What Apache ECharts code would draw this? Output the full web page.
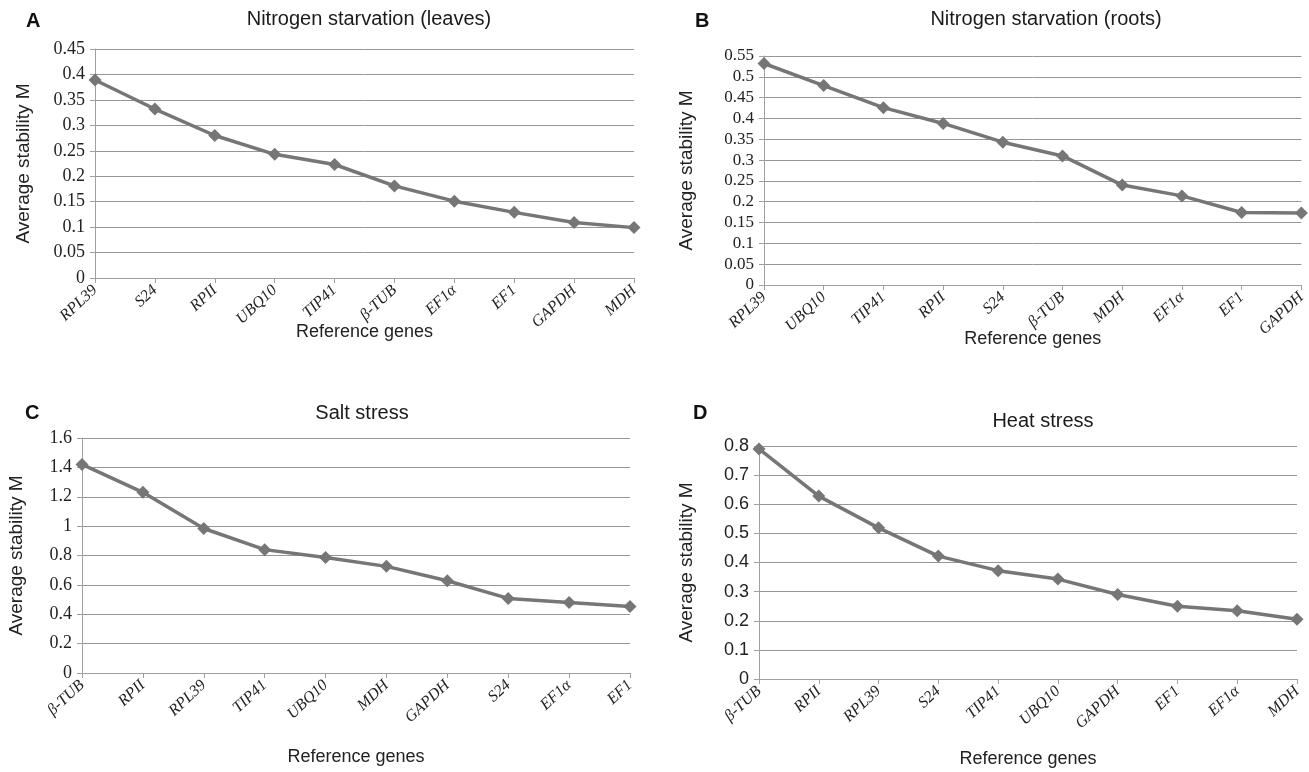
<!DOCTYPE html>
<html><head><meta charset="utf-8">
<script src="https://cdn.jsdelivr.net/npm/echarts@6/dist/echarts.min.js"></script>
<style>html,body{margin:0;padding:0;background:#fff}#c{width:1309px;height:772px}</style>
</head><body><div id="c"></div>
<script>
// ---- data ----
const catsA = ['RPL39','S24','RPII','UBQ10','TIP41','β-TUB','EF1α','EF1','GAPDH','MDH'];
const valsA = [0.389,0.332,0.280,0.243,0.223,0.181,0.151,0.129,0.109,0.099];
const catsB = ['RPL39','UBQ10','TIP41','RPII','S24','β-TUB','MDH','EF1α','EF1','GAPDH'];
const valsB = [0.532,0.479,0.426,0.388,0.343,0.310,0.240,0.214,0.174,0.173];
const catsC = ['β-TUB','RPII','RPL39','TIP41','UBQ10','MDH','GAPDH','S24','EF1α','EF1'];
const valsC = [1.42,1.23,0.984,0.84,0.786,0.726,0.628,0.508,0.48,0.452];
const catsD = ['β-TUB','RPII','RPL39','S24','TIP41','UBQ10','GAPDH','EF1','EF1α','MDH'];
const valsD = [0.79,0.628,0.519,0.422,0.372,0.343,0.29,0.25,0.234,0.205];
const titles = ['Nitrogen starvation (leaves)','Nitrogen starvation (roots)','Salt stress','Heat stress'];
const letters = ['A','B','C','D'];
const yName = 'Average stability M';
const xName = 'Reference genes';

const chart = echarts.init(document.getElementById('c'), null, {renderer:'canvas'});
const SANS = 'Liberation Sans, Arial, sans-serif';
const SERIF = 'Liberation Serif, Times New Roman, serif';
const gray = '#767676';

const panels = [
  {cats:catsA, vals:valsA, grid:{left:95, top:49, width:539, height:229}, max:0.45, interval:0.05, yFont:SERIF, yFs:18, yGap:62, xGap:45,
   title:[369,9], letter:[26,11]},
  {cats:catsB, vals:valsB, grid:{left:764, top:56, width:538, height:229}, max:0.55, interval:0.05, yFont:SERIF, yFs:17, yGap:68, xGap:45,
   title:[1046,9], letter:[695,11]},
  {cats:catsC, vals:valsC, grid:{left:82, top:438, width:548, height:235}, max:1.6, interval:0.2, yFont:SERIF, yFs:18, yGap:56, xGap:75,
   title:[362,403], letter:[25,403]},
  {cats:catsD, vals:valsD, grid:{left:759, top:446, width:538, height:233}, max:0.8, interval:0.1, yFont:SANS, yFs:18, yGap:63, xGap:71,
   title:[1043,411], letter:[693,403]}
];

const option = {
  animation:false,
  backgroundColor:'#fff',
  grid: panels.map(p=>Object.assign({containLabel:false}, p.grid)),
  xAxis: panels.map((p,i)=>({
    gridIndex:i, type:'category', data:p.cats, boundaryGap:false,
    axisLine:{show:true, lineStyle:{color:'#a0a0a0', width:1}},
    axisTick:{show:true, length:5, lineStyle:{color:'#a0a0a0'}},
    axisLabel:{rotate:43, margin:10, fontStyle:'italic', fontFamily:SERIF, fontSize:16, color:'#222', interval:0},
    splitLine:{show:false},
    name:xName, nameLocation:'middle', nameGap:p.xGap, nameMoveOverlap:false,
    nameTextStyle:{fontFamily:SANS, fontSize:18, color:'#222'}
  })),
  yAxis: panels.map((p,i)=>({
    gridIndex:i, type:'value', min:0, max:p.max, interval:p.interval,
    axisLine:{show:true, lineStyle:{color:'#a0a0a0', width:1}},
    axisTick:{show:true, length:5, lineStyle:{color:'#a0a0a0'}},
    axisLabel:{fontFamily:p.yFont, fontSize:p.yFs, color:'#222', margin:10},
    splitLine:{show:true, lineStyle:{color:'#969696', width:1}},
    name:yName, nameLocation:'middle', nameGap:p.yGap, nameMoveOverlap:false,
    nameTextStyle:{fontFamily:SANS, fontSize:19, color:'#222'}
  })),
  series: panels.map((p,i)=>({
    type:'line', xAxisIndex:i, yAxisIndex:i, data:p.vals,
    symbol:'diamond', symbolSize:13, showSymbol:true,
    lineStyle:{color:gray, width:3.5},
    itemStyle:{color:gray},
    emphasis:{disabled:true}
  })),
  graphic: [].concat(
    panels.map((p,i)=>({type:'text', x:p.title[0], y:p.title[1],
      style:{text:titles[i], font:'20px '+SANS, fill:'#1a1a1a', textAlign:'center', textVerticalAlign:'top'}})),
    panels.map((p,i)=>({type:'text', x:p.letter[0], y:p.letter[1],
      style:{text:letters[i], font:'bold 20px '+SANS, fill:'#111', textAlign:'left', textVerticalAlign:'top'}}))
  )
};
chart.setOption(option);
</script></body></html>
